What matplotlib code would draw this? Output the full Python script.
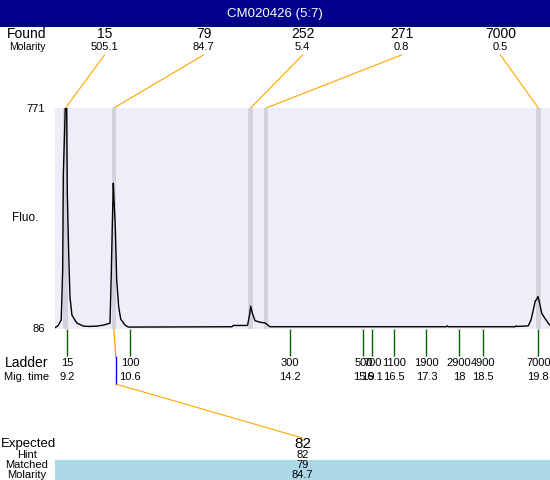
import matplotlib.pyplot as plt

plt.rcParams["font.family"] = ["Liberation Sans", "DejaVu Sans"]

title = "CM020426 (5:7)"

# found peaks
found_sizes = ["15", "79", "252", "271", "7000"]
found_molarity = ["505.1", "84.7", "5.4", "0.8", "0.5"]
found_times = [9.15, 10.24, 13.32, 13.67, 19.80]

# ladder
ladder_sizes = ["15", "100", "300", "500", "700", "1100", "1900", "2900", "4900", "7000"]
ladder_times = [9.18, 10.60, 14.20, 15.86, 16.06, 16.54, 17.28, 18.01, 18.56, 19.80]
ladder_time_labels = ["9.2", "10.6", "14.2", "15.9", "16.1", "16.5", "17.3", "18", "18.5", "19.8"]

# expected
expected_size = "82"
hint_size = "82"
matched_size = "79"
matched_molarity = "84.7"
matched_index = 1

# electropherogram trace (migration time, fluorescence)
trace_t = [8.914, 8.98, 9.054, 9.087, 9.101, 9.131, 9.145, 9.177, 9.191, 9.222,
           9.251, 9.296, 9.403, 9.551, 9.70, 9.853, 10.002, 10.153, 10.182, 10.204,
           10.227, 10.245, 10.272, 10.304, 10.349, 10.394, 10.491, 10.565, 10.65, 12.90,
           12.93, 13.25, 13.30, 13.322, 13.358, 13.418, 13.531, 13.644, 13.682, 13.756,
           17.73, 17.75, 17.77, 19.28, 19.30, 19.32, 19.50, 19.574, 19.635, 19.686,
           19.732, 19.763, 19.792, 19.822, 19.876, 19.950, 20.024, 20.063]
trace_f = [87, 93, 111, 267, 562, 703, 771, 771, 506, 320,
           183, 126, 102, 92, 91, 92, 95, 101, 257, 400,
           537, 480, 400, 235, 151, 114, 95, 89, 89, 90,
           94, 94, 130, 154, 133, 109, 104, 102, 98, 90,
           90, 93, 90, 90, 93, 91, 92, 93, 111, 142,
           171, 175, 184, 168, 132, 116, 101, 95]

fig = plt.figure(figsize=(5.5, 4.8), dpi=100)

# pixel overlay for labels and connectors
ov = fig.add_axes([0, 0, 1, 1])
ov.set_xlim(0, 550)
ov.set_ylim(480, 0)
ov.axis("off")

ax = fig.add_axes([55 / 550, (480 - 329) / 480, 495 / 550, 221 / 480])
ax.set_facecolor("#eeeefa")
ax.set_xlim(8.914, 20.063)
ax.set_ylim(83, 771)
for s in ax.spines.values():
    s.set_visible(False)
ax.set_xticks([])
ax.set_yticks([86, 771])
ax.tick_params(axis="y", length=0, pad=7, labelsize=8)

for t in found_times:
    ax.axvspan(t - 0.05, t + 0.05, color="#d3d3e0", lw=0)
ax.plot(trace_t, trace_f, color="black", lw=1.0)


def px(t):
    return ax.transData.transform((t, 0))[0]


# header bar
ov.add_patch(plt.Rectangle((0, 0), 550, 27, color="#00008b", lw=0))
ov.text(275, 14, title, color="white", ha="center", va="center", fontsize=9.5)

# found row
ov.text(27, 34, "Found", ha="center", va="center", fontsize=10)
ov.text(27, 47, "Molarity", ha="center", va="center", fontsize=7.5)
for i, (size, mol, t) in enumerate(zip(found_sizes, found_molarity, found_times)):
    sx = 104.5 + 99 * i
    ov.text(sx, 34, size, ha="center", va="center", fontsize=10)
    ov.text(sx, 47, mol, ha="center", va="center", fontsize=8)
    ov.plot([sx, px(t)], [55, 108], color="orange", lw=0.8)

ov.text(25, 218, "Fluo.", ha="center", va="center", fontsize=8.5)

# ladder ticks and labels
ax.vlines(ladder_times, -27 / 221, 0, transform=ax.get_xaxis_transform(),
          color="#006400", lw=1, clip_on=False)
ov.text(27, 363, "Ladder", ha="center", va="center", fontsize=10)
ov.text(27, 377, "Mig. time", ha="center", va="center", fontsize=8)
for size, lab, t in zip(ladder_sizes, ladder_time_labels, ladder_times):
    ov.text(px(t), 363, size, ha="center", va="center", fontsize=8)
    ov.text(px(t), 377, lab, ha="center", va="center", fontsize=8)

# matched peak link to expected
mx = px(found_times[matched_index])
ex = 302.5
ov.plot([mx, mx + 2], [329, 357], color="orange", lw=1)
ov.plot([mx + 2, mx + 2], [357, 384], color="blue", lw=1)
ov.plot([mx + 2, ex], [384, 438], color="orange", lw=0.8)

# expected table
ov.add_patch(plt.Rectangle((55, 460), 495, 20, color="#add8e6", lw=0))
ov.text(1, 444, "Expected", ha="left", va="center", fontsize=9.5)
ov.text(27, 455, "Hint", ha="center", va="center", fontsize=8)
ov.text(27, 465, "Matched", ha="center", va="center", fontsize=8)
ov.text(27, 474.5, "Molarity", ha="center", va="center", fontsize=8)
ov.text(ex, 444, expected_size, ha="center", va="center", fontsize=11)
ov.text(ex, 455, hint_size, ha="center", va="center", fontsize=8)
ov.text(ex, 465, matched_size, ha="center", va="center", fontsize=8)
ov.text(ex, 474.5, matched_molarity, ha="center", va="center", fontsize=8)

fig.savefig("out.png", dpi=100)
